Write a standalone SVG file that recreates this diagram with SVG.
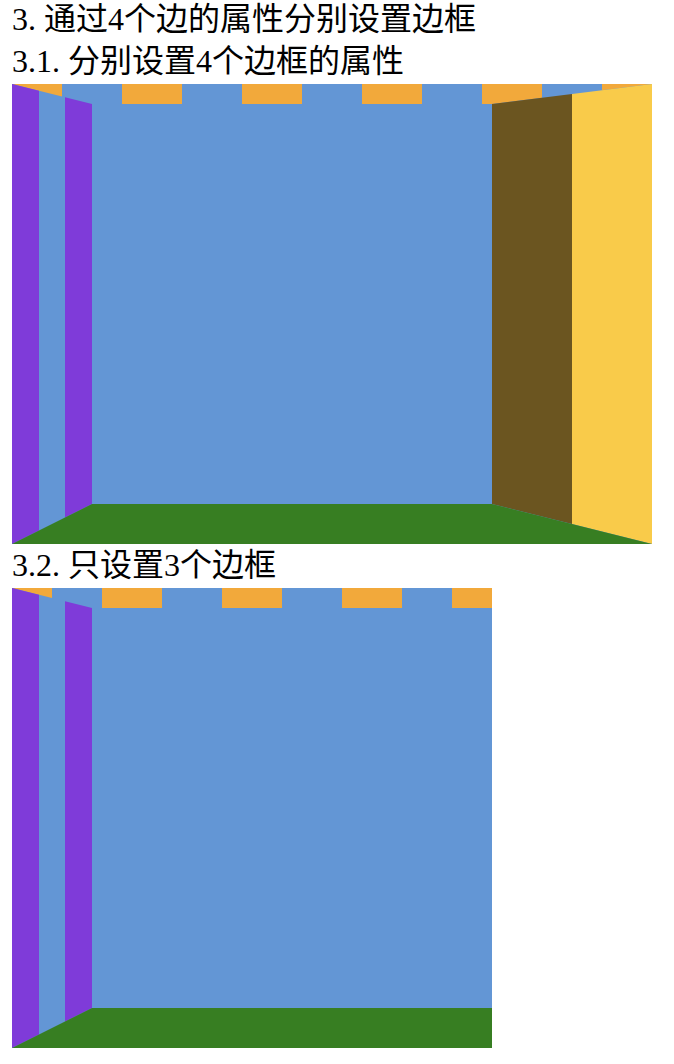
<svg xmlns="http://www.w3.org/2000/svg" width="674" height="1064" viewBox="0 0 674 1064">
<style>
.t{font-family:"Liberation Serif","Noto Sans CJK SC",serif;font-size:32px;fill:#000}
.bg{fill:#6396d5}
.pu{fill:#7f3bd9}
.or{fill:#f2a93b}
.gr{fill:#377e22}
.br{fill:#6b5520}
.ye{fill:#f9cb4a}
</style>
<defs>
<clipPath id="top1"><polygon points="12,84 652,84 492,104 92,104"/></clipPath>
<clipPath id="left1"><polygon points="12,84 92,104 92,504 12,544"/></clipPath>
<clipPath id="top2"><polygon points="12,588 492,588 492,608 92,608"/></clipPath>
<clipPath id="left2"><polygon points="12,588 92,608 92,1008 12,1048"/></clipPath>
</defs>
<rect width="674" height="1064" fill="#fff"/>
<g id="titles">
<text class="t" x="12" y="30">3. 通过4个边的属性分别设置边框</text>
<text class="t" x="12" y="72">3.1. 分别设置4个边框的属性</text>
<text class="t" x="12" y="576">3.2. 只设置3个边框</text>
</g>
<g id="box1">
<rect class="bg" x="12" y="84" width="640" height="460"/>
<g clip-path="url(#top1)">
<rect class="or" x="12" y="84" width="50" height="20"/>
<rect class="or" x="122" y="84" width="60" height="20"/>
<rect class="or" x="242" y="84" width="60" height="20"/>
<rect class="or" x="362" y="84" width="60" height="20"/>
<rect class="or" x="482" y="84" width="60" height="20"/>
<rect class="or" x="602" y="84" width="50" height="20"/>
</g>
<g clip-path="url(#left1)">
<rect class="pu" x="12" y="84" width="27" height="460"/>
<rect class="pu" x="65" y="84" width="27" height="460"/>
</g>
<polygon class="br" points="492,104 572,94 572,524 492,504"/>
<polygon class="ye" points="572,94 652,84 652,544 572,524"/>
<polygon class="gr" points="12,544 92,504 492,504 652,544"/>
</g>
<g id="box2">
<rect class="bg" x="12" y="588" width="480" height="460"/>
<g clip-path="url(#top2)">
<rect class="or" x="12" y="588" width="40" height="20"/>
<rect class="or" x="102" y="588" width="60" height="20"/>
<rect class="or" x="222" y="588" width="60" height="20"/>
<rect class="or" x="342" y="588" width="60" height="20"/>
<rect class="or" x="452" y="588" width="40" height="20"/>
</g>
<g clip-path="url(#left2)">
<rect class="pu" x="12" y="588" width="27" height="460"/>
<rect class="pu" x="65" y="588" width="27" height="460"/>
</g>
<polygon class="gr" points="12,1048 92,1008 492,1008 492,1048"/>
</g>
<g id="connectors"/>
</svg>
